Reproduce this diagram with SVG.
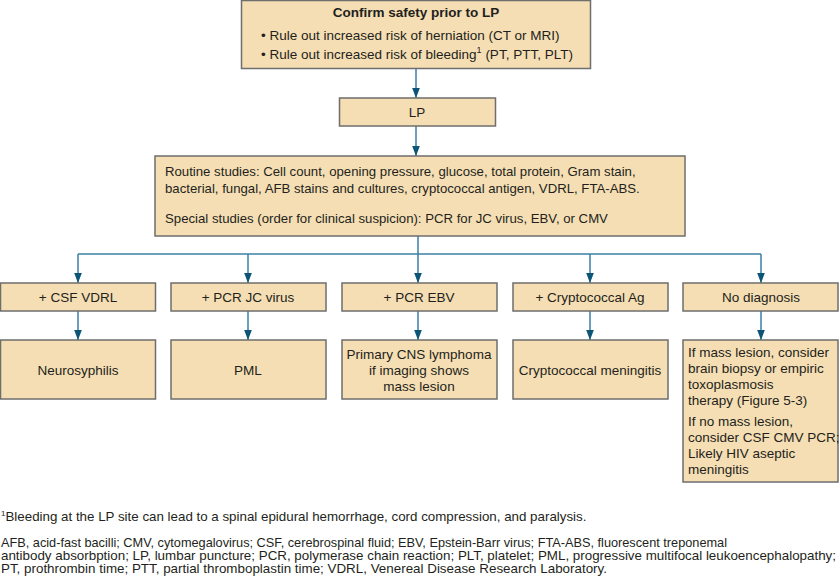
<svg xmlns="http://www.w3.org/2000/svg" width="839" height="578" viewBox="0 0 839 578">
<style>
.box{fill:#f5deb3;stroke:#6e6e6e;stroke-width:1.5}
.t{font-family:"Liberation Sans",Arial,sans-serif;font-size:13.5px;fill:#231f20}
.s{font-size:13.2px}
.c{text-anchor:middle}
.b{font-weight:bold}
.fn{font-family:"Liberation Sans",Arial,sans-serif;font-size:12.4px;fill:#231f20}
.conn{stroke:#3a7fa3;stroke-width:1.5;fill:none}
</style>
<defs>
<marker id="a" markerWidth="10" markerHeight="13" refX="13" refY="5" orient="auto" markerUnits="userSpaceOnUse" viewBox="0 0 13 10">
<path d="M0,0 L13,5 L0,10 Z" fill="#0d5577"/>
</marker>
</defs>
<g id="connectors">
<line class="conn" x1="416" y1="68" x2="416" y2="98" marker-end="url(#a)"/>
<line class="conn" x1="416" y1="126" x2="416" y2="156" marker-end="url(#a)"/>
<polyline class="conn" points="418,236 418,254"/>
<line class="conn" x1="78" y1="254" x2="761" y2="254"/>
<line class="conn" x1="78" y1="254" x2="78" y2="283" marker-end="url(#a)"/>
<line class="conn" x1="248" y1="254" x2="248" y2="283" marker-end="url(#a)"/>
<line class="conn" x1="418" y1="254" x2="418" y2="283" marker-end="url(#a)"/>
<line class="conn" x1="590" y1="254" x2="590" y2="283" marker-end="url(#a)"/>
<line class="conn" x1="761" y1="254" x2="761" y2="283" marker-end="url(#a)"/>
<line class="conn" x1="78" y1="311" x2="78" y2="340" marker-end="url(#a)"/>
<line class="conn" x1="248" y1="311" x2="248" y2="340" marker-end="url(#a)"/>
<line class="conn" x1="418" y1="311" x2="418" y2="340" marker-end="url(#a)"/>
<line class="conn" x1="590" y1="311" x2="590" y2="340" marker-end="url(#a)"/>
<line class="conn" x1="761" y1="311" x2="761" y2="340" marker-end="url(#a)"/>
</g>
<g id="safety">
<rect class="box" x="241.5" y="0.5" width="349" height="68"/>
<text class="t c b" x="416" y="17">Confirm safety prior to LP</text>
<text class="t" x="261" y="40">• Rule out increased risk of herniation (CT or MRI)</text>
<text class="t" x="261" y="59">• Rule out increased risk of bleeding<tspan dy="-6" font-size="9">1</tspan><tspan dy="6"> (PT, PTT, PLT)</tspan></text>
</g>
<g id="lp">
<rect class="box" x="339.5" y="98" width="156" height="28"/>
<text class="t c" x="417" y="117">LP</text>
</g>
<g id="studies">
<rect class="box" x="155" y="156" width="530" height="80"/>
<text class="t s" x="165" y="176">Routine studies: Cell count, opening pressure, glucose, total protein, Gram stain,</text>
<text class="t s" x="165" y="193">bacterial, fungal, AFB stains and cultures, cryptococcal antigen, VDRL, FTA-ABS.</text>
<text class="t s" x="165" y="223">Special studies (order for clinical suspicion): PCR for JC virus, EBV, or CMV</text>
</g>
<g id="vdrl">
<rect class="box" x="0.5" y="283" width="155" height="28"/>
<text class="t c" x="78" y="302">+ CSF VDRL</text>
</g>
<g id="jc">
<rect class="box" x="171" y="283" width="155" height="28"/>
<text class="t c" x="248" y="302">+ PCR JC virus</text>
</g>
<g id="ebv">
<rect class="box" x="342" y="283" width="155" height="28"/>
<text class="t c" x="419" y="302">+ PCR EBV</text>
</g>
<g id="crypto">
<rect class="box" x="513" y="283" width="155" height="28"/>
<text class="t c" x="590" y="302">+ Cryptococcal Ag</text>
</g>
<g id="nodx">
<rect class="box" x="683" y="283" width="155" height="28"/>
<text class="t c" x="761" y="302">No diagnosis</text>
</g>
<g id="neurosyph">
<rect class="box" x="0.5" y="340" width="155" height="59"/>
<text class="t c" x="78" y="375">Neurosyphilis</text>
</g>
<g id="pml">
<rect class="box" x="171" y="340" width="155" height="59"/>
<text class="t c" x="248" y="375">PML</text>
</g>
<g id="lymphoma">
<rect class="box" x="342" y="340" width="155" height="59"/>
<text class="t c" x="419" y="359">Primary CNS lymphoma</text>
<text class="t c" x="419" y="375">if imaging shows</text>
<text class="t c" x="419" y="391">mass lesion</text>
</g>
<g id="meningitis">
<rect class="box" x="513" y="340" width="155" height="59"/>
<text class="t c" x="590" y="375">Cryptococcal meningitis</text>
</g>
<g id="nodx-result">
<rect class="box" x="683" y="340" width="155" height="142"/>
<text class="t" x="688" y="357">If mass lesion, consider</text>
<text class="t" x="688" y="373">brain biopsy or empiric</text>
<text class="t" x="688" y="389">toxoplasmosis</text>
<text class="t" x="688" y="405">therapy (Figure 5-3)</text>
<text class="t" x="688" y="426">If no mass lesion,</text>
<text class="t" x="688" y="442">consider CSF CMV PCR;</text>
<text class="t" x="688" y="458">Likely HIV aseptic</text>
<text class="t" x="688" y="474">meningitis</text>
</g>
<g id="footnotes">
<text class="fn" x="1" y="521"><tspan dy="-5" font-size="8">1</tspan><tspan dy="5" textLength="581" lengthAdjust="spacingAndGlyphs">Bleeding at the LP site can lead to a spinal epidural hemorrhage, cord compression, and paralysis.</tspan></text>
<text class="fn" x="1" y="547" textLength="726" lengthAdjust="spacingAndGlyphs">AFB, acid-fast bacilli; CMV, cytomegalovirus; CSF, cerebrospinal fluid; EBV, Epstein-Barr virus; FTA-ABS, fluorescent treponemal</text>
<text class="fn" x="1" y="560" textLength="835" lengthAdjust="spacingAndGlyphs">antibody absorbption; LP, lumbar puncture; PCR, polymerase chain reaction; PLT, platelet; PML, progressive multifocal leukoencephalopathy;</text>
<text class="fn" x="1" y="573" textLength="606" lengthAdjust="spacingAndGlyphs">PT, prothrombin time; PTT, partial thromboplastin time; VDRL, Venereal Disease Research Laboratory.</text>
</g>
</svg>
